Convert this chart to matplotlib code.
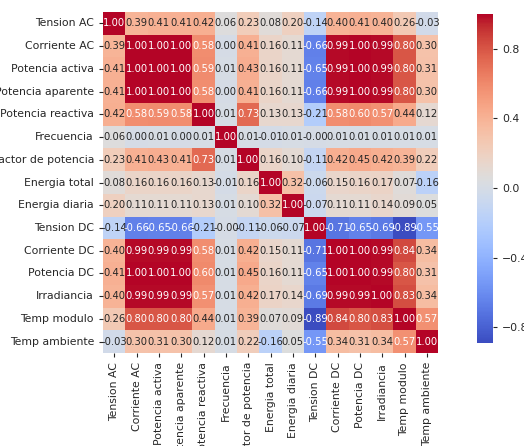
import numpy as np
import matplotlib
matplotlib.use("Agg")
import matplotlib.pyplot as plt
import seaborn as sns

labels = ["Tension AC", "Corriente AC", "Potencia activa", "Potencia aparente",
          "Potencia reactiva", "Frecuencia", "Factor de potencia", "Energia total",
          "Energia diaria", "Tension DC", "Corriente DC", "Potencia DC",
          "Irradiancia", "Temp modulo", "Temp ambiente"]

corr = np.array([
    [1.00, 0.39, 0.41, 0.41, 0.42, 0.06, 0.23, 0.08, 0.20, -0.14, 0.40, 0.41, 0.40, 0.26, -0.03],
    [0.39, 1.00, 1.00, 1.00, 0.58, 0.00, 0.41, 0.16, 0.11, -0.66, 0.99, 1.00, 0.99, 0.80, 0.30],
    [0.41, 1.00, 1.00, 1.00, 0.59, 0.01, 0.43, 0.16, 0.11, -0.65, 0.99, 1.00, 0.99, 0.80, 0.31],
    [0.41, 1.00, 1.00, 1.00, 0.58, 0.00, 0.41, 0.16, 0.11, -0.66, 0.99, 1.00, 0.99, 0.80, 0.30],
    [0.42, 0.58, 0.59, 0.58, 1.00, 0.01, 0.73, 0.13, 0.13, -0.21, 0.58, 0.60, 0.57, 0.44, 0.12],
    [0.06, 0.00, 0.01, 0.00, 0.01, 1.00, 0.01, -0.01, 0.01, -0.00, 0.01, 0.01, 0.01, 0.01, 0.01],
    [0.23, 0.41, 0.43, 0.41, 0.73, 0.01, 1.00, 0.16, 0.10, -0.11, 0.42, 0.45, 0.42, 0.39, 0.22],
    [0.08, 0.16, 0.16, 0.16, 0.13, -0.01, 0.16, 1.00, 0.32, -0.06, 0.15, 0.16, 0.17, 0.07, -0.16],
    [0.20, 0.11, 0.11, 0.11, 0.13, 0.01, 0.10, 0.32, 1.00, -0.07, 0.11, 0.11, 0.14, 0.09, 0.05],
    [-0.14, -0.66, -0.65, -0.66, -0.21, -0.00, -0.11, -0.06, -0.07, 1.00, -0.71, -0.65, -0.69, -0.89, -0.55],
    [0.40, 0.99, 0.99, 0.99, 0.58, 0.01, 0.42, 0.15, 0.11, -0.71, 1.00, 1.00, 0.99, 0.84, 0.34],
    [0.41, 1.00, 1.00, 1.00, 0.60, 0.01, 0.45, 0.16, 0.11, -0.65, 1.00, 1.00, 0.99, 0.80, 0.31],
    [0.40, 0.99, 0.99, 0.99, 0.57, 0.01, 0.42, 0.17, 0.14, -0.69, 0.99, 0.99, 1.00, 0.83, 0.34],
    [0.26, 0.80, 0.80, 0.80, 0.44, 0.01, 0.39, 0.07, 0.09, -0.89, 0.84, 0.80, 0.83, 1.00, 0.57],
    [-0.03, 0.30, 0.31, 0.30, 0.12, 0.01, 0.22, -0.16, 0.05, -0.55, 0.34, 0.31, 0.34, 0.57, 1.00],
])

fig = plt.figure(figsize=(5.24, 4.46), dpi=100)
ax = fig.add_axes([103/524, 93/446, 335/524, 341/446])
cax = fig.add_axes([477/524, 103/446, 16/524, 329/446])

# mapa de calor de correlaciones
sns.heatmap(corr, annot=True, fmt=".2f", cmap="coolwarm",
            xticklabels=labels, yticklabels=labels,
            annot_kws={"size": 7.2}, ax=ax, cbar_ax=cax)

ax.tick_params(axis="both", labelsize=7.8, length=3, color="#262626", labelcolor="#262626")
plt.setp(ax.get_xticklabels(), rotation=90)
plt.setp(ax.get_yticklabels(), rotation=0)
cax.tick_params(labelsize=7.8, length=3, color="#262626", labelcolor="#262626")
cax.set_yticks([-0.8, -0.4, 0.0, 0.4, 0.8])

fig.savefig("out.png", dpi=100)
